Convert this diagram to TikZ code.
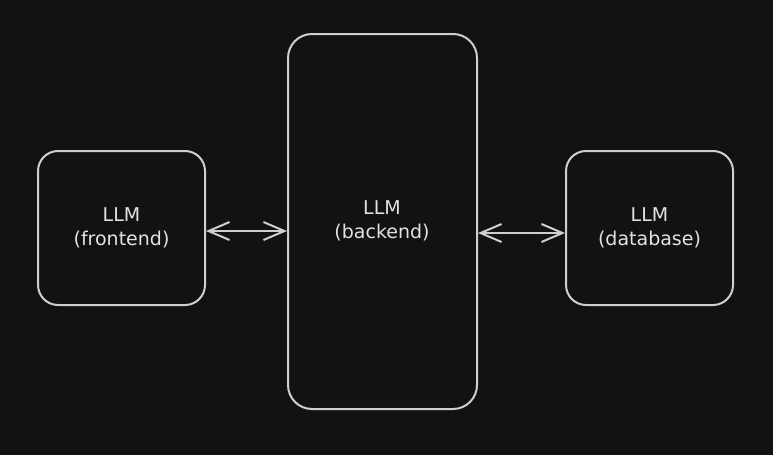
\documentclass[tikz,border=0pt]{standalone}
\usepackage{fontspec}
\setmainfont{DejaVu Sans}
\usetikzlibrary{arrows.meta}
\definecolor{bg}{HTML}{121212}
\definecolor{stroke}{HTML}{CFCFCF}
\definecolor{txt}{HTML}{E2E2E2}
\begin{document}
\begin{tikzpicture}[x=1pt,y=-1pt,
  lbl/.style={text=txt,font=\fontsize{19}{24}\selectfont,align=center},
  box/.style={draw=stroke,line width=2pt,rounded corners=20pt,minimum width=167pt,minimum height=154pt,inner sep=0pt,lbl},
  tip/.style={Straight Barb[length=21pt,width=18pt,line width=2pt]},
  conn/.style={draw=stroke,line width=2pt,{Straight Barb[length=21pt,width=18pt,line width=2pt]}-{Straight Barb[length=21pt,width=18pt,line width=2pt]}}]
\fill[bg] (0,0) rectangle (773,455);
\useasboundingbox (0,0) rectangle (773,455);
\node[box] (front) at (121.5,228) {LLM\\(frontend)};
\node[box,minimum width=189pt,minimum height=375pt,rounded corners=24pt] (back) at (382.5,221.5) {};
\node[lbl] (backt) at (382,221) {LLM\\(backend)};
\node[box] (db) at (649.5,228) {LLM\\(database)};
\draw[conn] ([yshift=-3pt]front.east) -- ([yshift=-3pt]front.east -| back.west);
\draw[conn,line width=2.6pt] ([yshift=-11.5pt]back.east) -- ([yshift=-11.5pt]back.east -| db.west);
\end{tikzpicture}
\end{document}
